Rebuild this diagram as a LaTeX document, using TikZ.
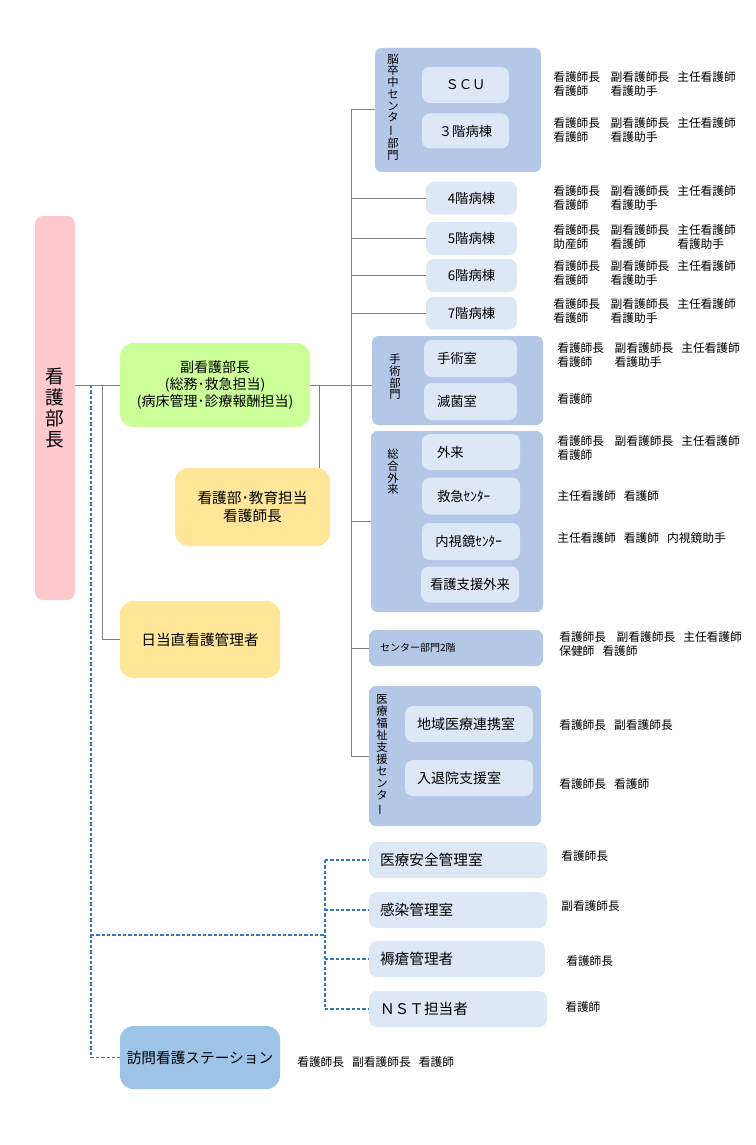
\documentclass[tikz,border=0pt]{standalone}
\usepackage{fontspec}
\setmainfont{Noto Sans CJK JP}
\usepackage{graphicx}
\usepackage{tikz}

\definecolor{headpink}{HTML}{FFC8CC}
\definecolor{deputygreen}{HTML}{CCFF99}
\definecolor{mgryellow}{HTML}{FFE699}
\definecolor{secblue}{HTML}{B4C7E7}
\definecolor{roomblue}{HTML}{DDE8F6}
\definecolor{visitblue}{HTML}{9DC3E6}
\definecolor{dashblue}{HTML}{2F78C0}
\definecolor{linegray}{HTML}{808080}

\newcommand{\vbar}{\rotatebox[origin=c]{90}{ー}}
\newcommand{\sgap}{\hspace{6pt}}
\newcommand{\staffthree}[6]{\begin{tabular}{@{}p{43pt}@{}p{50pt}@{}l@{}}#1&#2&#3\\#4&#5&#6\end{tabular}}

\tikzset{
  boss/.style={fill=headpink, rounded corners=6pt, inner sep=0pt, align=center,
    minimum width=30pt, minimum height=288pt, font=\fontsize{14}{15.75}\selectfont},
  deputy/.style={fill=deputygreen, rounded corners=10pt, inner sep=0pt, align=center,
    font=\fontsize{10.5}{12.75}\selectfont},
  manager/.style={fill=mgryellow, rounded corners=10pt, inner sep=0pt, align=center,
    font=\fontsize{11}{13.5}\selectfont},
  section/.style={fill=secblue, rounded corners=5pt, inner sep=0pt},
  vlabel/.style={inner sep=0pt, align=center, font=\fontsize{8.5}{8.8}\selectfont},
  room/.style={fill=roomblue, rounded corners=6pt, inner sep=0pt, align=center,
    font=\fontsize{10}{12}\selectfont},
  lroom/.style 2 args={room, align=left, inner xsep=#1, text width=#2},
  risk/.style={fill=roomblue, rounded corners=6pt, inner ysep=0pt, inner xsep=8.25pt,
    align=left, font=\fontsize{11}{13}\selectfont, minimum height=27pt},
  staff/.style={anchor=west, inner sep=0pt, font=\fontsize{8.8}{10.5}\selectfont},
  link/.style={draw=linegray, line width=0.75pt},
  dline/.style={draw=dashblue, line width=0.9pt, dash pattern=on 2.5pt off 1.5pt},
}

\begin{document}
\begin{tikzpicture}[x=0.75pt,y=0.75pt,yscale=-1,xscale=1]
\useasboundingbox (0,0) rectangle (756,1145);

% Head of nursing
\node[boss] (head) at (55,408) {看\\護\\部\\長};

% Deputy and managers
\node[deputy, minimum width=142.5pt, minimum height=63pt] (deputy) at (215,385) {副看護部長\\(総務･救急担当)\\(病床管理･診療報酬担当)};
\node[manager, minimum width=116.25pt, minimum height=58.5pt] (educ) at (252.5,507) {看護部･教育担当\\看護師長};
\node[manager, minimum width=120pt, minimum height=57.75pt] (night) at (200,639.5) {日当直看護管理者};
\node[manager, fill=visitblue, minimum width=120pt, minimum height=47.25pt] (visit) at (200,1057.5) {訪問看護ステーション};

% Stroke center
\node[section, minimum width=124.5pt, minimum height=93pt] (stroke) at (458,110) {};
\node[vlabel] (stroke-l) at (393,107) {脳\\卒\\中\\セ\\ン\\タ\\\vbar\\部\\門};
\node[room, minimum width=65.25pt, minimum height=27pt] (scu) at (465.5,85) {ＳＣＵ};
\node[room, minimum width=65.25pt, minimum height=26.25pt] (ward3) at (465.5,131) {３階病棟};

% Wards
\node[room, minimum width=68.25pt, minimum height=24.75pt] (ward4) at (471.5,198) {4階病棟};
\node[room, minimum width=68.25pt, minimum height=24.75pt] (ward5) at (471.5,238.5) {5階病棟};
\node[room, minimum width=68.25pt, minimum height=24.75pt] (ward6) at (471.5,275.5) {6階病棟};
\node[room, minimum width=68.25pt, minimum height=24.75pt] (ward7) at (471.5,313) {7階病棟};

% Surgery
\node[section, minimum width=128.25pt, minimum height=66.75pt] (surg) at (457.5,380.5) {};
\node[vlabel] (surg-l) at (395,377) {手\\術\\部\\門};
\node[lroom={9.75pt}{50.25pt}, minimum height=27.75pt] (theatre) at (470.5,358.5) {手術室};
\node[lroom={9.75pt}{50.25pt}, minimum height=27.75pt] (steril) at (470.5,401.5) {滅菌室};

% Outpatient
\node[section, minimum width=129pt, minimum height=135.75pt] (outpt) at (457,521.5) {};
\node[vlabel] (outpt-l) at (393,472) {総\\合\\外\\来};
\node[lroom={11.25pt}{51pt}, minimum height=27pt] (clinic) at (471,452) {外来};
\node[lroom={11.25pt}{51pt}, minimum height=27.75pt] (er) at (471,496) {救急ｾﾝﾀｰ};
\node[lroom={10pt}{53.5pt}, minimum height=27.75pt] (endo) at (471,541.5) {内視鏡ｾﾝﾀｰ};
\node[room, minimum width=73.5pt, minimum height=27pt] (support) at (470,584.5) {看護支援外来};

% Center 2F
\node[section, align=left, inner xsep=8.25pt, text width=114pt, minimum height=27pt, font=\fontsize{7.5}{9}\selectfont] (center2) at (456,648) {センター部門2階};

% Welfare support center
\node[section, minimum width=129pt, minimum height=105pt] (welfare) at (455,756) {};
\node[vlabel, font=\fontsize{8.5}{9}\selectfont] (welfare-l) at (382,755) {医\\療\\福\\祉\\支\\援\\セ\\ン\\タ\\\vbar};
\node[lroom={9pt}{78pt}, minimum height=27pt, font=\fontsize{10.5}{12}\selectfont] (region) at (469,724) {地域医療連携室};
\node[lroom={9pt}{78pt}, minimum height=27pt, font=\fontsize{10.5}{12}\selectfont] (admit) at (469,778) {入退院支援室};

% Risk management
\node[risk, text width=117pt] (safety) at (458,860) {医療安全管理室};
\node[risk, text width=117pt] (infect) at (458,910) {感染管理室};
\node[risk, text width=115.5pt] (ulcer) at (457,959) {褥瘡管理者};
\node[risk, text width=117pt] (nst) at (458,1009) {ＮＳＴ担当者};

% Staff texts
\node[staff] (s-scu) at (553,86) {\staffthree{看護師長}{副看護師長}{主任看護師}{看護師}{看護助手}{}};
\node[staff] (s-w3) at (553,131.5) {\staffthree{看護師長}{副看護師長}{主任看護師}{看護師}{看護助手}{}};
\node[staff] (s-w4) at (553,200) {\staffthree{看護師長}{副看護師長}{主任看護師}{看護師}{看護助手}{}};
\node[staff] (s-w5) at (553,238.5) {\staffthree{看護師長}{副看護師長}{主任看護師}{助産師}{看護師}{看護助手}};
\node[staff] (s-w6) at (553,275) {\staffthree{看護師長}{副看護師長}{主任看護師}{看護師}{看護助手}{}};
\node[staff] (s-w7) at (553,312.5) {\staffthree{看護師長}{副看護師長}{主任看護師}{看護師}{看護助手}{}};
\node[staff] (s-th) at (557,357) {\staffthree{看護師長}{副看護師長}{主任看護師}{看護師}{看護助手}{}};
\node[staff] (s-st) at (557,399) {看護師};
\node[staff] (s-cl) at (557,449.5) {\staffthree{看護師長}{副看護師長}{主任看護師}{看護師}{}{}};
\node[staff] (s-er) at (557,496) {主任看護師\sgap 看護師};
\node[staff] (s-en) at (557,538) {主任看護師\sgap 看護師\sgap 内視鏡助手};
\node[staff] (s-c2) at (559,646) {\begin{tabular}{@{}p{43pt}@{}p{50pt}@{}l@{}}看護師長&副看護師長&主任看護師\\\multicolumn{3}{@{}l@{}}{保健師\sgap 看護師}\end{tabular}};
\node[staff] (s-rg) at (559,725) {看護師長\sgap 副看護師長};
\node[staff] (s-ad) at (559,784) {看護師長\sgap 看護師};
\node[staff] (s-sf) at (561,856) {看護師長};
\node[staff] (s-if) at (561,906) {副看護師長};
\node[staff] (s-ul) at (566,961) {看護師長};
\node[staff] (s-ns) at (565,1007) {看護師};
\node[staff] (s-vs) at (297,1062) {看護師長\sgap 副看護師長\sgap 看護師};

%Straight Lines
\coordinate (trunk) at (351,385);
\coordinate (edu) at (319,385);
\coordinate (duty) at (102,385);
\draw[link] (head.east |- deputy.west) -- (deputy.west);
\draw[link] (deputy.east) -- (deputy.east -| surg.west);
\draw[link] (trunk |- stroke.west) -- (trunk |- welfare.west);
\foreach \n in {stroke,ward4,ward5,ward6,ward7,outpt,center2,welfare}
  \draw[link] (trunk |- \n.west) -- (\n.west);
\draw[link] (edu) -- (edu |- educ.north);
\draw[link] (duty) |- (night.west);

%Dashed Lines
\coordinate (dsh) at (91,385);
\coordinate (riskbar) at (325,935);
\draw[dline] (dsh) |- (visit.west);
\draw[dline] (dsh |- riskbar) -- (riskbar);
\draw[dline] (riskbar |- safety.west) -- (riskbar |- nst.west);
\foreach \n in {safety,infect,ulcer,nst}
  \draw[dline] (riskbar |- \n.west) -- (\n.west);

\end{tikzpicture}
\end{document}
